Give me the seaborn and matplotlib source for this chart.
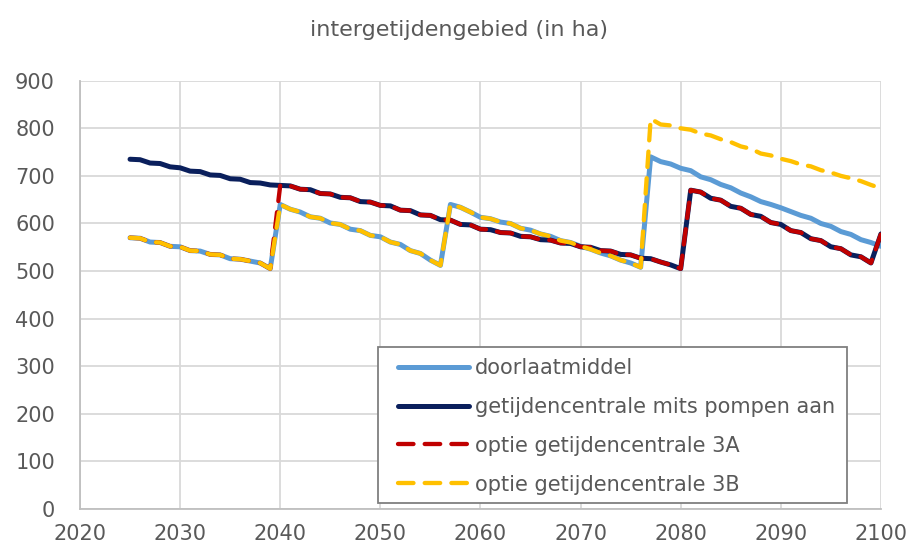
import matplotlib
matplotlib.use("Agg")
import pandas as pd
import matplotlib.pyplot as plt
import seaborn as sns
from matplotlib.lines import Line2D
from matplotlib.patches import Rectangle

# --- data (ha per year) ---
years = list(range(2025, 2101))

doorlaatmiddel = [
    570, 569, 561, 560, 552, 551, 543, 542, 535, 534,
    526, 525, 521, 517, 505, 640, 630, 624, 614, 611,
    601, 598, 588, 585, 575, 572, 561, 556, 543, 537,
    523, 512, 640, 634, 624, 613, 610, 603, 600, 590,
    586, 578, 573, 564, 560, 552, 546, 538, 532, 523,
    517, 508, 740, 730, 725, 716, 711, 698, 692, 682,
    675, 664, 656, 646, 640, 633, 625, 617, 611, 600,
    594, 583, 577, 566, 560, 552,
]

pompen_aan = [
    735, 734, 727, 726, 719, 717, 710, 709, 702, 701,
    694, 693, 686, 685, 681, 680, 679, 672, 671, 663,
    662, 655, 654, 646, 645, 638, 637, 628, 627, 618,
    617, 608, 607, 598, 597, 588, 587, 581, 580, 573,
    572, 566, 565, 559, 558, 551, 550, 543, 542, 535,
    534, 527, 526, 519, 513, 505, 670, 666, 653, 649,
    636, 632, 619, 615, 602, 598, 585, 581, 568, 564,
    551, 547, 534, 530, 517, 578,
]

optie_3a = [
    570, 569, 561, 560, 552, 551, 543, 542, 535, 534,
    526, 525, 521, 517, 505, 680, 679, 672, 671, 663,
    662, 655, 654, 646, 645, 638, 637, 628, 627, 618,
    617, 608, 607, 598, 597, 588, 587, 581, 580, 573,
    572, 566, 565, 559, 558, 551, 550, 543, 542, 535,
    534, 527, 526, 519, 513, 505, 670, 666, 653, 649,
    636, 632, 619, 615, 602, 598, 585, 581, 568, 564,
    551, 547, 534, 530, 517, 578,
]

optie_3b = [
    570, 569, 561, 560, 552, 551, 543, 542, 535, 534,
    526, 525, 521, 517, 505, 640, 630, 624, 614, 611,
    601, 598, 588, 585, 575, 572, 561, 556, 543, 537,
    523, 512, 640, 634, 624, 613, 610, 603, 600, 590,
    586, 578, 573, 564, 560, 552, 546, 538, 532, 523,
    517, 508, 820, 808, 806, 800, 797, 789, 785, 777,
    771, 762, 757, 747, 743, 736, 731, 724, 720, 712,
    707, 700, 695, 689, 681, 674,
]

names = [
    "doorlaatmiddel",
    "getijdencentrale mits pompen aan",
    "optie getijdencentrale 3A",
    "optie getijdencentrale 3B",
]
x_ticks = [2020, 2030, 2040, 2050, 2060, 2070, 2080, 2090, 2100]
y_ticks = [0, 100, 200, 300, 400, 500, 600, 700, 800, 900]

colors = {names[0]: "#5B9BD5", names[1]: "#0A1F5C", names[2]: "#C00000", names[3]: "#FFC000"}
dash = (3.6, 2.6)
dashes = {names[0]: "", names[1]: "", names[2]: dash, names[3]: dash}
widths = {names[0]: 3.6, names[1]: 3.6, names[2]: 3.1, names[3]: 3.1}

df = pd.DataFrame({
    "jaar": years * 4,
    "ha": doorlaatmiddel + pompen_aan + optie_3a + optie_3b,
    "reeks": sum([[n] * len(years) for n in names], []),
})

sns.set_theme(style="white")
plt.rcParams["font.family"] = ["DejaVu Sans"]
plt.rcParams["lines.solid_capstyle"] = "round"
plt.rcParams["lines.dash_capstyle"] = "round"
txt = "#595959"

fig = plt.figure(figsize=(9.13, 5.54), dpi=100)
ax = fig.add_axes([0.0876, 0.0812, 0.8773, 0.7731])

sns.lineplot(data=df, x="jaar", y="ha", hue="reeks", style="reeks",
             hue_order=names, style_order=names, palette=colors, dashes=dashes,
             linewidth=3, ax=ax, legend=False, zorder=3)
for line, n in zip(ax.get_lines(), names):
    line.set_linewidth(widths[n])

ax.set_xlim(2020, 2100)
ax.set_ylim(0, 900)
ax.set_xticks(x_ticks)
ax.set_yticks(y_ticks)
ax.set_xlabel("")
ax.set_ylabel("")
ax.grid(True, color="#D9D9D9", linewidth=1.3)
ax.set_axisbelow(True)
for s in ["top", "right"]:
    ax.spines[s].set_visible(False)
for s in ["left", "bottom"]:
    ax.spines[s].set_color("#BFBFBF")
    ax.spines[s].set_linewidth(1.3)
ax.tick_params(axis="x", length=4, width=1.3, color="#BFBFBF", pad=7, labelsize=15, labelcolor=txt)
ax.tick_params(axis="y", length=0, pad=18, labelsize=15, labelcolor=txt)

fig.text(0.503, 0.946, "intergetijdengebied (in ha)", ha="center", va="center",
         fontsize=16, color=txt)

# legend: frame drawn separately so it can sit exactly where the original box is
ax.add_patch(Rectangle((0.372, 0.014), 0.586, 0.364, transform=ax.transAxes,
                       facecolor="white", edgecolor="#7F7F7F", linewidth=1.3, zorder=4))
handles = []
for n in names:
    h = Line2D([], [], color=colors[n], linewidth=widths[n])
    if dashes[n]:
        h.set_dashes(dashes[n])
    handles.append(h)
leg = ax.legend(handles, names, loc="upper left", bbox_to_anchor=(0.397, 0.352),
                frameon=False, fontsize=15, handlelength=3.4, handletextpad=0.3,
                labelspacing=0.9, borderpad=0, borderaxespad=0)
leg.set_zorder(5)
for t in leg.get_texts():
    t.set_color(txt)

fig.savefig("out.png", dpi=100)
